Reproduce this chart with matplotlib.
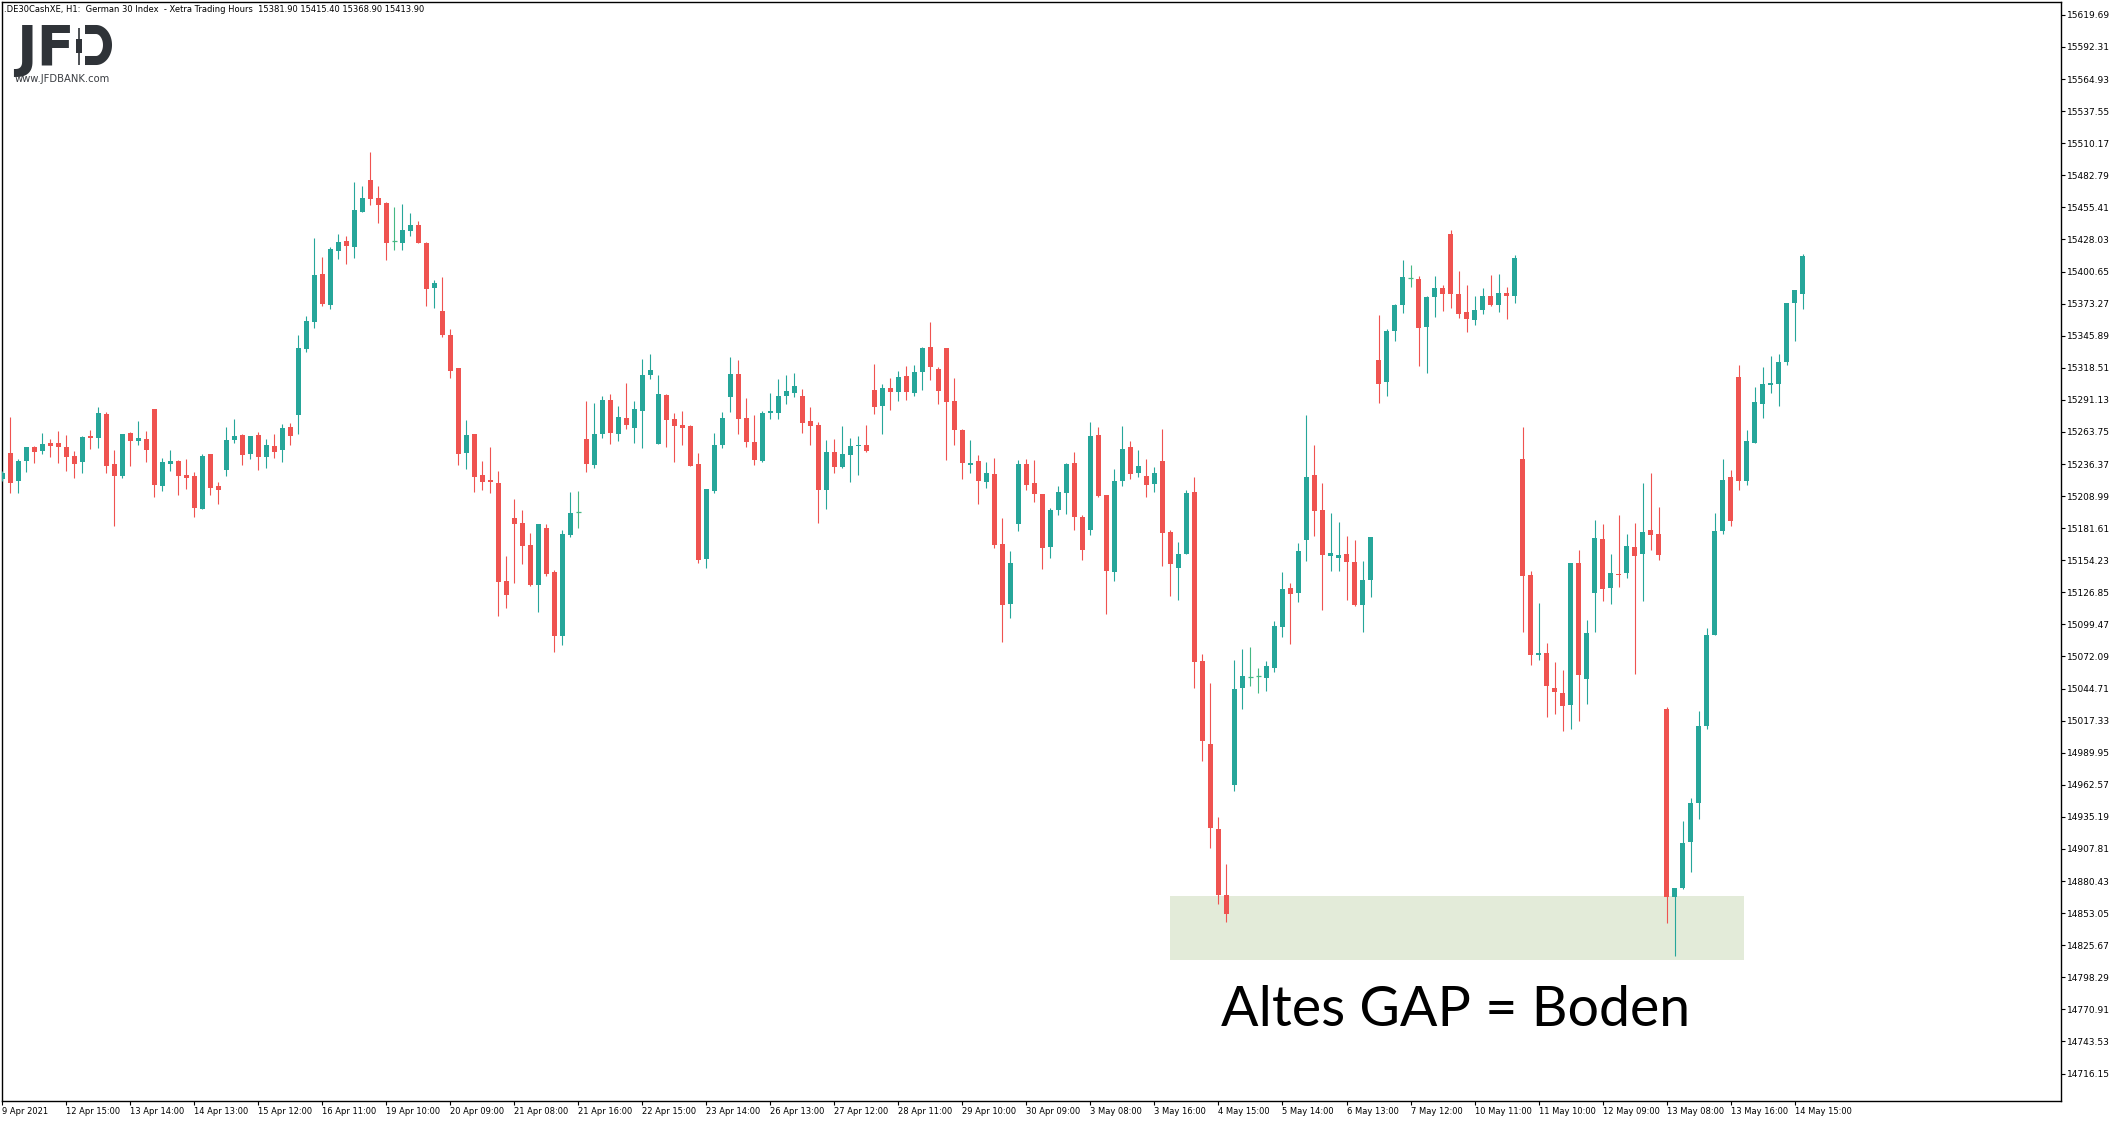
import numpy as np
import matplotlib
matplotlib.use('Agg')
import matplotlib.pyplot as plt
from matplotlib.patches import Rectangle

# hourly DAX bars, 9 Apr 2021 - 14 May 2021
opens = [15224.0, 15245.8, 15222.2, 15239.0, 15250.9, 15247.5, 15254.3, 15254.3, 15250.9, 15243.2,
         15238.4, 15260.6, 15258.8, 15279.0, 15236.6, 15226.4, 15262.9, 15256.3, 15257.7, 15283.3,
         15217.9, 15236.6, 15239.0, 15227.3, 15226.4, 15198.3, 15244.9, 15217.9, 15231.5, 15256.9,
         15261.1, 15245.2, 15261.1, 15242.6, 15251.7, 15248.6, 15267.9, 15278.2, 15334.5, 15357.6,
         15398.5, 15372.1, 15418.2, 15426.7, 15421.6, 15451.5, 15478.8, 15463.4, 15459.1, 15426.7,
         15425.0, 15435.2, 15440.3, 15425.0, 15386.6, 15366.9, 15346.5, 15318.3, 15246.0, 15262.0,
         15227.0, 15222.7, 15220.4, 15136.8, 15190.3, 15186.0, 15167.2, 15133.1, 15181.7, 15144.2,
         15090.0, 15175.8, 15195.1, 15257.7, 15235.5, 15262.0, 15291.0, 15262.0, 15275.6, 15267.1,
         15281.6, 15312.3, 15253.4, 15295.3, 15274.8, 15269.7, 15268.8, 15236.4, 15155.3, 15213.3,
         15252.6, 15293.6, 15313.2, 15275.6, 15255.1, 15238.9, 15279.9, 15279.9, 15294.4, 15297.0,
         15294.4, 15273.1, 15269.7, 15214.2, 15246.6, 15233.8, 15244.0, 15252.0, 15252.6, 15299.5,
         15285.9, 15301.2, 15297.8, 15311.5, 15297.0, 15314.9, 15336.2, 15317.5, 15335.4, 15290.1,
         15265.4, 15235.5, 15238.9, 15221.0, 15227.8, 15168.1, 15116.9, 15185.2, 15236.4, 15220.2,
         15210.9, 15165.7, 15197.1, 15211.8, 15237.2, 15191.1, 15180.3, 15261.2, 15210.0, 15144.4,
         15222.0, 15250.7, 15228.9, 15226.2, 15219.3, 15239.0, 15178.2, 15148.0, 15159.7, 15212.4,
         15068.0, 14997.3, 14924.6, 14868.3, 14962.6, 15045.3, 15054.2, 15055.1, 15053.9, 15062.3,
         15097.2, 15130.5, 15126.3, 15171.6, 15227.0, 15197.0, 15158.1, 15156.3, 15159.6, 15152.7,
         15116.2, 15137.4, 15325.2, 15306.6, 15350.1, 15372.2, 15395.0, 15394.4, 15353.7, 15379.1,
         15386.6, 15432.7, 15381.5, 15365.9, 15359.6, 15368.0, 15379.7, 15371.9, 15382.4, 15379.7,
         15240.5, 15141.6, 15073.6, 15074.9, 15045.3, 15040.9, 15030.5, 15151.8, 15053.3, 15126.5,
         15172.2, 15130.2, 15142.6, 15143.0, 15165.4, 15159.8, 15180.2, 15176.6, 15027.3, 14866.5,
         14874.9, 14914.1, 14947.3, 15013.0, 15090.5, 15179.4, 15225.4, 15310.6, 15222.2, 15254.6,
         15287.8, 15303.4, 15304.6, 15323.8, 15373.8, 15381.9]
highs = [15230.0, 15276.8, 15240.6, 15251.0, 15252.0, 15262.9, 15257.7, 15264.5, 15261.1, 15247.5,
         15260.6, 15265.4, 15285.3, 15280.8, 15248.3, 15262.0, 15263.7, 15273.1, 15264.5, 15283.3,
         15241.5, 15248.3, 15239.8, 15240.6, 15229.8, 15244.9, 15244.9, 15221.3, 15268.0, 15274.8,
         15262.0, 15260.3, 15263.7, 15257.7, 15262.0, 15270.5, 15271.4, 15346.5, 15362.7, 15429.3,
         15413.0, 15421.6, 15432.7, 15431.0, 15477.1, 15473.7, 15502.7, 15473.7, 15460.0, 15455.7,
         15458.3, 15450.6, 15443.8, 15425.9, 15393.4, 15396.0, 15351.6, 15318.3, 15273.9, 15262.0,
         15238.9, 15250.9, 15230.4, 15158.1, 15206.5, 15197.1, 15177.5, 15185.2, 15185.2, 15145.9,
         15180.0, 15212.5, 15213.3, 15290.1, 15288.4, 15294.4, 15296.1, 15285.9, 15305.5, 15290.1,
         15326.0, 15330.2, 15312.3, 15296.1, 15279.9, 15281.6, 15269.7, 15245.8, 15215.0, 15262.8,
         15280.7, 15327.7, 15325.1, 15292.7, 15278.2, 15281.6, 15297.0, 15308.9, 15312.3, 15314.0,
         15300.4, 15285.0, 15272.2, 15256.9, 15257.7, 15268.8, 15258.6, 15260.3, 15269.7, 15321.7,
         15304.6, 15309.8, 15315.7, 15320.0, 15320.9, 15336.2, 15357.6, 15319.2, 15335.4, 15309.8,
         15266.2, 15256.9, 15244.0, 15238.1, 15241.5, 15190.3, 15162.1, 15239.8, 15240.7, 15239.9,
         15210.9, 15198.9, 15217.5, 15237.2, 15246.5, 15192.9, 15272.3, 15268.1, 15210.0, 15232.1,
         15268.7, 15256.1, 15248.3, 15240.5, 15233.6, 15266.3, 15180.0, 15169.9, 15214.2, 15225.2,
         15074.0, 15049.4, 14935.0, 14894.9, 15068.9, 15078.5, 15080.0, 15062.0, 15068.0, 15102.2,
         15144.0, 15134.7, 15168.9, 15278.2, 15252.4, 15220.1, 15194.3, 15186.8, 15175.2, 15171.3,
         15153.6, 15174.0, 15363.5, 15351.6, 15373.1, 15410.6, 15406.1, 15396.8, 15379.7, 15396.8,
         15389.3, 15436.0, 15401.0, 15389.0, 15379.7, 15386.6, 15397.7, 15398.6, 15387.5, 15414.8,
         15268.0, 15144.9, 15117.6, 15083.7, 15067.3, 15060.5, 15151.8, 15163.0, 15103.4, 15188.6,
         15185.0, 15159.4, 15193.0, 15176.6, 15186.2, 15220.2, 15228.6, 15199.8, 15028.9, 14874.5,
         14931.7, 14951.3, 15025.7, 15096.5, 15194.6, 15240.6, 15231.4, 15321.0, 15265.4, 15302.2,
         15319.0, 15328.6, 15330.2, 15373.8, 15385.0, 15415.4]
lows = [15222.0, 15211.9, 15211.9, 15229.8, 15237.5, 15245.2, 15242.6, 15237.5, 15230.7, 15224.7,
        15229.0, 15249.5, 15250.3, 15229.0, 15183.8, 15224.7, 15235.0, 15252.9, 15238.4, 15208.5,
        15213.6, 15230.7, 15210.2, 15215.3, 15191.4, 15198.3, 15210.2, 15202.5, 15226.4, 15254.6,
        15235.8, 15240.9, 15231.5, 15233.2, 15241.8, 15238.4, 15252.9, 15262.3, 15332.0, 15352.5,
        15371.2, 15368.7, 15411.3, 15407.1, 15412.2, 15451.5, 15457.4, 15442.1, 15410.5, 15419.0,
        15419.0, 15431.0, 15425.0, 15371.2, 15369.5, 15344.8, 15309.8, 15235.5, 15232.1, 15212.8,
        15214.5, 15211.9, 15106.9, 15113.7, 15135.1, 15151.0, 15132.2, 15110.0, 15140.8, 15076.0,
        15082.0, 15174.1, 15181.7, 15229.5, 15232.9, 15258.6, 15253.4, 15256.0, 15266.2, 15254.3,
        15250.0, 15308.9, 15253.4, 15250.9, 15238.1, 15252.6, 15234.7, 15151.9, 15147.6, 15211.6,
        15250.0, 15280.7, 15262.0, 15250.9, 15235.5, 15238.1, 15274.8, 15274.8, 15287.6, 15293.6,
        15262.8, 15252.6, 15186.0, 15198.0, 15228.7, 15232.9, 15221.0, 15227.0, 15246.6, 15279.0,
        15262.0, 15282.5, 15290.1, 15291.0, 15294.4, 15299.5, 15308.1, 15287.6, 15239.8, 15252.6,
        15223.6, 15228.7, 15202.2, 15215.9, 15164.7, 15084.5, 15104.9, 15179.2, 15214.2, 15204.0,
        15146.8, 15156.4, 15193.2, 15193.8, 15180.3, 15154.6, 15176.1, 15208.2, 15108.5, 15136.3,
        15217.8, 15223.8, 15225.3, 15208.2, 15212.4, 15149.5, 15124.0, 15120.4, 15159.7, 15045.3,
        14983.0, 14908.7, 14860.8, 14845.5, 14957.5, 15027.6, 15047.1, 15041.1, 15042.9, 15059.0,
        15088.8, 15082.9, 15118.6, 15153.9, 15175.2, 15112.0, 15145.2, 15145.2, 15120.4, 15115.0,
        15093.1, 15123.0, 15288.7, 15294.7, 15341.7, 15365.6, 15387.8, 15320.4, 15314.4, 15362.0,
        15367.1, 15369.8, 15361.1, 15349.2, 15355.1, 15364.7, 15371.0, 15365.9, 15360.2, 15373.7,
        15093.1, 15064.9, 15069.0, 15020.5, 15023.3, 15008.1, 15010.1, 15017.3, 15031.7, 15093.3,
        15119.8, 15116.6, 15131.8, 15139.4, 15057.3, 15119.8, 15162.6, 15154.2, 14844.9, 14816.5,
        14873.7, 14888.5, 14933.7, 15010.5, 15090.5, 15177.0, 15183.8, 15214.6, 15218.2, 15254.6,
        15275.8, 15297.4, 15286.2, 15320.6, 15341.4, 15368.9]
closes = [15229.0, 15220.4, 15239.0, 15250.9, 15246.6, 15253.5, 15251.8, 15250.9, 15242.6, 15236.6,
          15259.4, 15258.8, 15279.9, 15235.0, 15226.4, 15262.0, 15256.3, 15258.6, 15248.6, 15218.7,
          15238.1, 15239.0, 15226.4, 15224.7, 15199.1, 15243.2, 15216.2, 15214.5, 15256.9, 15260.3,
          15244.3, 15260.3, 15242.6, 15252.6, 15246.9, 15267.1, 15260.3, 15335.4, 15358.4, 15397.7,
          15372.9, 15419.9, 15425.9, 15422.4, 15453.2, 15463.4, 15462.6, 15457.4, 15425.0, 15426.7,
          15436.1, 15440.3, 15425.0, 15385.7, 15390.9, 15346.5, 15315.8, 15244.9, 15261.1, 15225.6,
          15221.3, 15221.3, 15135.9, 15124.9, 15185.2, 15166.4, 15133.1, 15185.2, 15142.5, 15090.0,
          15176.6, 15194.5, 15195.1, 15236.4, 15262.0, 15291.0, 15262.8, 15276.5, 15269.7, 15283.3,
          15312.3, 15316.6, 15296.1, 15273.9, 15268.8, 15267.1, 15234.7, 15154.4, 15215.0, 15252.6,
          15275.6, 15313.2, 15274.8, 15255.1, 15239.8, 15279.9, 15281.6, 15294.4, 15298.7, 15302.9,
          15271.4, 15268.8, 15214.2, 15246.6, 15233.8, 15244.9, 15251.7, 15252.6, 15247.5, 15285.0,
          15301.2, 15297.8, 15310.6, 15297.8, 15314.9, 15335.4, 15319.2, 15298.7, 15289.3, 15265.4,
          15237.2, 15237.2, 15221.9, 15228.7, 15167.2, 15116.0, 15151.9, 15236.4, 15218.5, 15210.9,
          15164.8, 15197.1, 15212.4, 15236.3, 15191.4, 15163.3, 15260.3, 15209.1, 15145.3, 15222.0,
          15249.2, 15228.0, 15234.5, 15218.7, 15228.6, 15177.6, 15151.3, 15159.4, 15211.5, 15067.7,
          15000.0, 14925.8, 14868.3, 14852.4, 15044.4, 15055.4, 15054.2, 15055.1, 15063.8, 15097.9,
          15129.6, 15125.7, 15162.0, 15225.2, 15196.4, 15159.0, 15160.2, 15158.7, 15152.7, 15116.2,
          15137.1, 15174.0, 15304.8, 15349.8, 15371.9, 15395.9, 15395.0, 15352.8, 15378.8, 15386.6,
          15381.8, 15381.8, 15364.7, 15360.5, 15367.7, 15379.7, 15371.9, 15382.4, 15379.7, 15412.1,
          15141.0, 15073.6, 15074.8, 15046.5, 15042.1, 15030.1, 15151.8, 15056.5, 15092.1, 15173.4,
          15129.4, 15143.4, 15141.4, 15166.6, 15158.2, 15178.2, 15176.2, 15159.0, 14866.5, 14874.5,
          14912.9, 14946.9, 15013.0, 15090.5, 15179.4, 15222.6, 15187.4, 15222.2, 15256.2, 15289.4,
          15304.6, 15305.4, 15323.4, 15373.8, 15385.0, 15413.9]

time_labels = ["9 Apr 2021", "12 Apr 15:00", "13 Apr 14:00", "14 Apr 13:00", "15 Apr 12:00",
               "16 Apr 11:00", "19 Apr 10:00", "20 Apr 09:00", "21 Apr 08:00", "21 Apr 16:00",
               "22 Apr 15:00", "23 Apr 14:00", "26 Apr 13:00", "27 Apr 12:00", "28 Apr 11:00",
               "29 Apr 10:00", "30 Apr 09:00", "3 May 08:00", "3 May 16:00", "4 May 15:00",
               "5 May 14:00", "6 May 13:00", "7 May 12:00", "10 May 11:00", "11 May 10:00",
               "12 May 09:00", "13 May 08:00", "13 May 16:00", "14 May 15:00"]
label_every = 8

price_ticks = [14716.15, 14743.53, 14770.91, 14798.29, 14825.67, 14853.05, 14880.43, 14907.81,
               14935.19, 14962.57, 14989.95, 15017.33, 15044.71, 15072.09, 15099.47, 15126.85,
               15154.23, 15181.61, 15208.99, 15236.37, 15263.75, 15291.13, 15318.51, 15345.89,
               15373.27, 15400.65, 15428.03, 15455.41, 15482.79, 15510.17, 15537.55, 15564.93,
               15592.31, 15619.69]

# old gap zone (price range and bar span of the marked rectangle)
gap_low, gap_high = 14813.0, 14867.7
gap_from, gap_to = 146.0, 217.7

header = ".DE30CashXE, H1:  German 30 Index  - Xetra Trading Hours  15381.90 15415.40 15368.90 15413.90"

GREEN = '#26a69a'
RED = '#ef5350'
DOJI = '#45b883'

W, H = 2118, 1123
fig = plt.figure(figsize=(W / 100, H / 100), dpi=100)
ax = fig.add_axes([2 / W, 22 / H, 2059 / W, 1099 / H])

o, h, l, c = map(np.array, (opens, highs, lows, closes))
idx = np.arange(len(o))
flat = c == o
col = np.where(c > o, GREEN, np.where(c < o, RED, DOJI))

ax.add_patch(Rectangle((gap_from, gap_low), gap_to - gap_from, gap_high - gap_low,
                       facecolor='#e3ebd9', edgecolor='none', zorder=1))
ax.vlines(idx, l, h, colors=col, linewidth=0.8, zorder=3)
lo = np.minimum(o, c)
hgt = np.maximum(np.abs(c - o), 0.9)
ax.bar(idx[~flat], hgt[~flat], bottom=lo[~flat], width=0.62, color=col[~flat],
       linewidth=0, zorder=4)
ax.hlines(o[flat], idx[flat] - 0.31, idx[flat] + 0.31, colors=DOJI, linewidth=0.9, zorder=4)

ax.set_xlim(-0.04, 257.3)
ax.set_ylim(14692.7, 15630.7)

for s in ax.spines.values():
    s.set_color('black')
    s.set_linewidth(1.0)

ax.yaxis.tick_right()
ax.set_yticks(price_ticks)
ax.set_yticklabels(['%.2f' % v for v in price_ticks])
ax.tick_params(axis='y', direction='out', length=3, width=0.8, labelsize=6.5, pad=1,
               colors='black')
ax.set_xticks(idx[::label_every][:len(time_labels)])
ax.set_xticklabels(time_labels)
ax.tick_params(axis='x', direction='out', length=3, width=0.8, labelsize=6, pad=1.5,
               colors='black')
for t in ax.get_xticklabels():
    t.set_horizontalalignment('left')

# overlay in pixel coordinates for header, logo and note
ov = fig.add_axes([0, 0, 1, 1])
ov.set_xlim(0, W)
ov.set_ylim(H, 0)
ov.axis('off')

ov.text(4, 9, header, fontsize=6, va='center', ha='left', color='black')

logo = '#2f3338'
ov.text(16, 65, 'JF', fontsize=40, fontweight='bold', color=logo, va='baseline', ha='left',
        family='DejaVu Sans')
ov.plot([79, 79], [28, 65], color=logo, linewidth=1.2, solid_capstyle='butt')
ov.add_patch(Rectangle((76, 39), 6, 14, facecolor=logo, edgecolor='none'))
t = np.linspace(-np.pi / 2, np.pi / 2, 60)
dx = np.concatenate([[85], 96 + 11.5 * np.cos(t), [85]])
dy = np.concatenate([[29.5], 45 + 15.5 * np.sin(t), [60.5]])
ov.plot(dx, dy, color=logo, linewidth=6.5, solid_capstyle='butt', solid_joinstyle='miter')
ov.text(15, 79, 'www.JFDBANK.com', fontsize=7.2, color='#3a3d42', va='center', ha='left')

ov.text(1456, 1010, 'Altes GAP = Boden', fontsize=40, family=['Lato', 'DejaVu Sans'],
        color='black', ha='center', va='center')

fig.savefig('out.png', dpi=100)
